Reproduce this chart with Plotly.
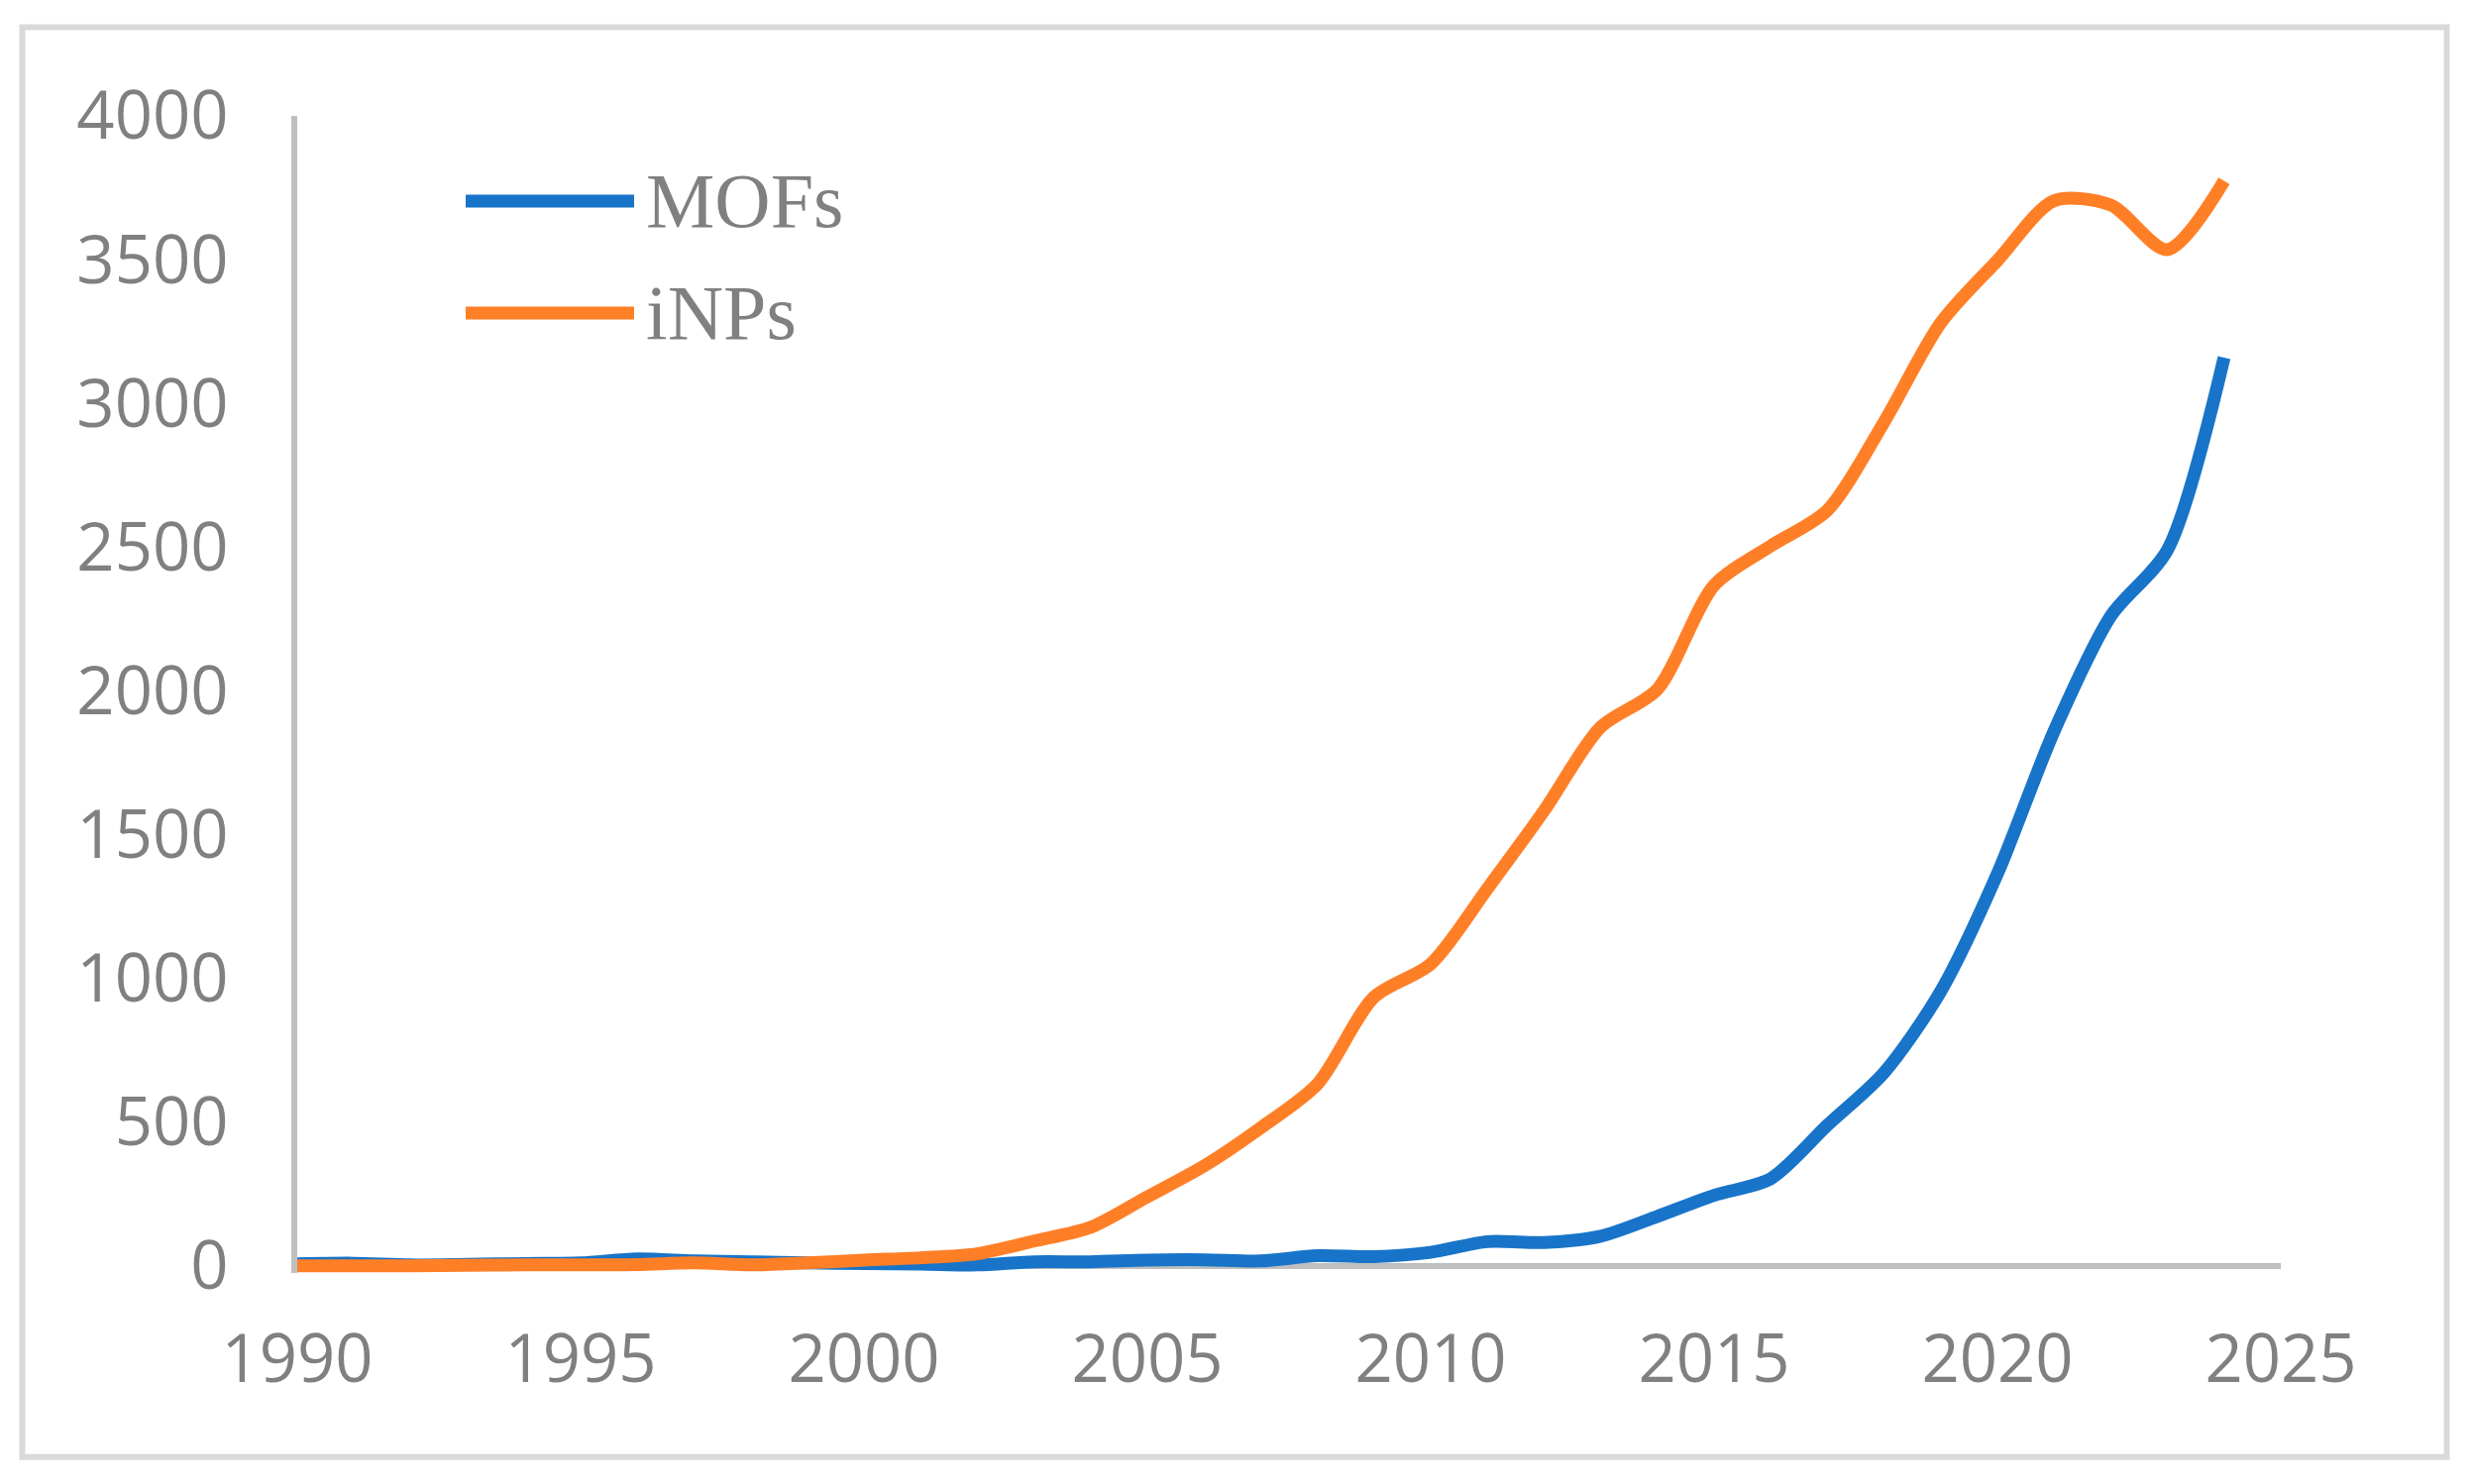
import plotly.graph_objects as go

years = list(range(1990, 2025))
mofs = [7, 9, 3, 5, 8, 10, 24, 17, 14, 10,
        8, 6, 3, 14, 14, 20, 21, 17, 35, 32,
        47, 84, 81, 103, 172, 245, 303, 489, 672, 955,
        1364, 1860, 2260, 2490, 3159]
inps = [0, 0, 0, 2, 3, 3, 4, 10, 3, 10,
        20, 28, 42, 86, 134, 240, 347, 480, 632, 935,
        1050, 1312, 1583, 1874, 2005, 2367, 2504, 2628, 2935, 3280,
        3497, 3705, 3690, 3535, 3774]
series_names = ["MOFs", "iNPs"]
series_colors = ["#1874C8", "#FF7F27"]
x_ticks = [1990, 1995, 2000, 2005, 2010, 2015, 2020, 2025]
y_ticks = [0, 500, 1000, 1500, 2000, 2500, 3000, 3500, 4000]

W, H = 2496, 1498
L, T = 300, 117
PLOT_BOTTOM = 1285.3
R = W - 2302
B = H - PLOT_BOTTOM
PH = PLOT_BOTTOM - T
PW = W - R - L

def px(xp):
    return (xp - L) / PW

def py(yp):
    return (PLOT_BOTTOM - yp) / PH

fig = go.Figure()
for name, vals, col in zip(series_names, [mofs, inps], series_colors):
    fig.add_trace(go.Scatter(
        x=years, y=vals, name=name, mode="lines",
        line=dict(color=col, width=13, shape="spline", smoothing=0.8),
        showlegend=False,
    ))

grey = "#808080"
shapes = [
    dict(type="rect", xref="paper", yref="paper",
         x0=px(22.5), x1=px(2469.5), y0=py(1471), y1=py(27.5),
         line=dict(color="#D9D9D9", width=6), fillcolor="rgba(0,0,0,0)", layer="below"),
]
annotations = []
leg_y = [203, 316]
for name, col, ly in zip(series_names, series_colors, leg_y):
    shapes.append(dict(type="line", xref="paper", yref="paper",
                       x0=px(470), x1=px(640), y0=py(ly), y1=py(ly),
                       line=dict(color=col, width=13)))
    annotations.append(dict(xref="paper", yref="paper", x=px(650), y=py(ly),
                            xanchor="left", yanchor="middle", showarrow=False,
                            text=name, font=dict(family="Liberation Serif", size=78, color=grey)))

fig.update_layout(
    width=W, height=H,
    margin=dict(l=L, r=R, t=T, b=B, pad=0),
    paper_bgcolor="white", plot_bgcolor="white",
    shapes=shapes, annotations=annotations,
    font=dict(family="Open Sans", color=grey),
)
fig.update_xaxes(
    range=[1990, 2025], tickvals=x_ticks, showgrid=False, zeroline=False,
    showline=False, ticks="", tickfont=dict(family="Open Sans", size=67, color=grey),
    ticklabelstandoff=42,
)
fig.update_yaxes(
    range=[-25, 4000], tickvals=y_ticks, showgrid=False,
    zeroline=True, zerolinecolor="#BFBFBF", zerolinewidth=6,
    showline=True, linecolor="#BFBFBF", linewidth=6, ticks="",
    tickfont=dict(family="Open Sans", size=67, color=grey),
    ticklabelstandoff=50,
)
fig.write_html("out.html", config={"displayModeBar": False},
               post_script="document.body.style.margin='0';document.body.style.overflow='hidden';")
